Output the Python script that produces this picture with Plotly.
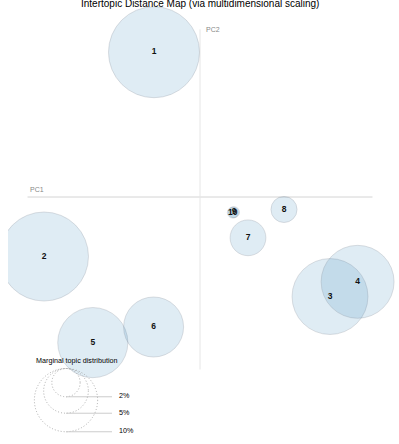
import numpy as np
import plotly.graph_objects as go

# ---- data ----
topics = ["1", "2", "3", "4", "5", "6", "7", "8", "9", "10"]
pc1 = [-0.0575, -0.195, 0.1625, 0.197, -0.134, -0.058, 0.060, 0.105, 0.0425, 0.041]
pc2 = [0.181, -0.0744, -0.1244, -0.106, -0.182, -0.1625, -0.051, -0.0156, -0.019, -0.0195]
marginal_pct = [20.7, 19.8, 14.4, 13.3, 12.3, 9.0, 3.2, 1.7, 0.3, 0.3]
legend_pct = [2, 5, 10]
legend_labels = ["2%", "5%", "10%"]

# ---- scales ----
W, H = 399, 444
PX_PER_UNIT = 800.0          # pixels per MDS unit
ORIGIN_PX = (200, 197)       # pixel position of (0,0)
LEFT_CLIP = 8
SIZE_K = 10.0                # radius px per sqrt(%)
AXIS_HALF = 0.2156           # half-length of PC axes in MDS units
FONT = "Liberation Sans, Arial, Helvetica"


def px_to_x(px):
    return (px - ORIGIN_PX[0]) / PX_PER_UNIT


def px_to_y(py):
    return (ORIGIN_PX[1] - py) / PX_PER_UNIT


radii_px = [SIZE_K * np.sqrt(p) for p in marginal_pct]

fig = go.Figure()

fig.add_trace(go.Scatter(
    x=pc1, y=pc2, mode="markers+text", text=topics,
    textposition="middle center",
    textfont=dict(family=FONT, size=8.5, color="#111", weight="bold"),
    marker=dict(size=[2 * r for r in radii_px], sizemode="diameter",
                color="rgba(31,119,180,0.2)",
                line=dict(color="rgba(120,130,140,0.35)", width=1)),
    hoverinfo="skip", cliponaxis=True, showlegend=False,
))

shapes = []
# PC axes
shapes.append(dict(type="line", xref="x", yref="y", x0=-AXIS_HALF, x1=AXIS_HALF,
                   y0=0, y1=0, line=dict(color="#d4d4d4", width=1), layer="below"))
shapes.append(dict(type="line", xref="x", yref="y", x0=0, x1=0,
                   y0=-AXIS_HALF, y1=AXIS_HALF - 0.006,
                   line=dict(color="#e6e6e6", width=1), layer="below"))

annotations = [
    dict(text="Intertopic Distance Map (via multidimensional scaling)",
         xref="paper", yref="paper", x=200 / W, y=1 - 3 / H,
         xanchor="center", yanchor="middle", showarrow=False,
         font=dict(family=FONT, size=10, color="#000")),
    dict(text="PC1", xref="x", yref="y", x=-AXIS_HALF, y=0.009,
         xanchor="left", yanchor="middle", showarrow=False,
         font=dict(family=FONT, size=7, color="#888")),
    dict(text="PC2", xref="x", yref="y", x=0.005, y=AXIS_HALF - 0.006,
         xanchor="left", yanchor="middle", showarrow=False,
         font=dict(family=FONT, size=7, color="#888")),
    dict(text="Marginal topic distribution", xref="x", yref="y",
         x=px_to_x(76.5), y=px_to_y(360.5), xanchor="center", yanchor="middle",
         showarrow=False,
         font=dict(family=FONT, size=7.2, color="#000")),
]

# legend circles (top aligned)
leg_cx_px, leg_top_px, leg_line_end_px = 66, 368.5, 112
for p, lab in zip(legend_pct, legend_labels):
    r = SIZE_K * np.sqrt(p)
    cy_px = leg_top_px + r
    shapes.append(dict(type="circle", xref="x", yref="y",
                       x0=px_to_x(leg_cx_px - r), x1=px_to_x(leg_cx_px + r),
                       y0=px_to_y(cy_px + r), y1=px_to_y(cy_px - r),
                       line=dict(color="#999", width=0.8, dash="1px,2px")))
    shapes.append(dict(type="line", xref="x", yref="y",
                       x0=px_to_x(leg_cx_px), x1=px_to_x(leg_line_end_px),
                       y0=px_to_y(cy_px + r), y1=px_to_y(cy_px + r),
                       line=dict(color="#ccc", width=1)))
    annotations.append(dict(text=lab, xref="x", yref="y",
                            x=px_to_x(leg_line_end_px + 5), y=px_to_y(cy_px + r - 1),
                            xanchor="left", yanchor="middle", showarrow=False,
                            font=dict(family=FONT, size=7.2, color="#000")))

fig.update_layout(
    width=W, height=H, margin=dict(l=0, r=0, t=0, b=0),
    paper_bgcolor="white", plot_bgcolor="white",
    xaxis=dict(domain=[LEFT_CLIP / W, 1], range=[px_to_x(LEFT_CLIP), px_to_x(W)],
               visible=False, fixedrange=True),
    yaxis=dict(domain=[0, 1], range=[px_to_y(H), px_to_y(0)],
               visible=False, fixedrange=True),
    shapes=shapes, annotations=annotations, showlegend=False,
)

fig.write_html("out.html", config={"displayModeBar": False},
               post_script="document.body.style.margin='0';document.body.style.overflow='hidden';")
